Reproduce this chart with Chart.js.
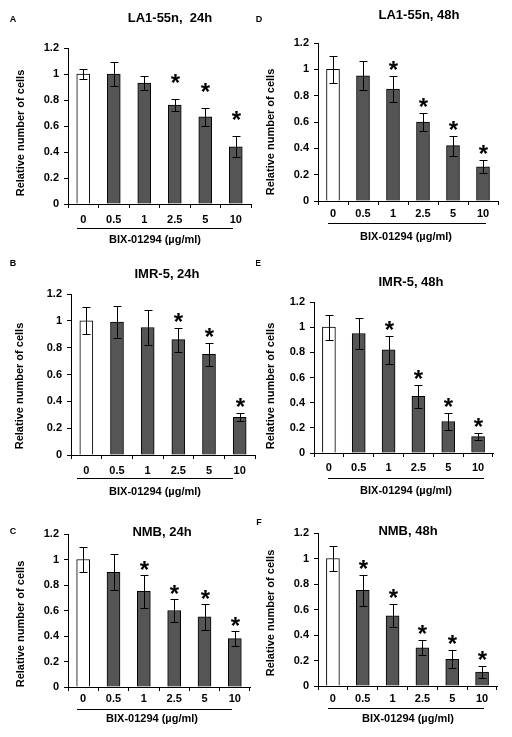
<!DOCTYPE html>
<html>
<head>
<meta charset="utf-8">
<script src="https://cdn.jsdelivr.net/npm/chart.js@4.4.1/dist/chart.umd.min.js"></script>
<style>
  body { margin: 0; background: #fff; }
  #wrap { position: relative; width: 512px; height: 737px; }
  #wrap canvas { position: absolute; }
</style>
</head>
<body>
<div id="wrap">
  <canvas id="chartA" width="256" height="250" style="left:0;top:0"></canvas>
  <canvas id="chartD" width="256" height="250" style="left:256px;top:0"></canvas>
  <canvas id="chartB" width="256" height="250" style="left:0;top:250px"></canvas>
  <canvas id="chartE" width="256" height="250" style="left:256px;top:250px"></canvas>
  <canvas id="chartC" width="256" height="237" style="left:0;top:500px"></canvas>
  <canvas id="chartF" width="256" height="237" style="left:256px;top:500px"></canvas>
</div>
<script>
// BIX-01294 doses (µg/ml)
var doses = ['0', '0.5', '1', '2.5', '5', '10'];

// LA1-55n
var la24 = [1.0, 1.0, 0.93, 0.76, 0.67, 0.44];
var la24Err = [0.04, 0.095, 0.055, 0.047, 0.07, 0.08];
var la24Sig = [false, false, false, true, true, true];
var la48 = [1.0, 0.95, 0.85, 0.6, 0.42, 0.26];
var la48Err = [0.1, 0.11, 0.1, 0.07, 0.076, 0.05];
var la48Sig = [false, false, true, true, true, true];

// IMR-5
var imr24 = [1.0, 0.99, 0.95, 0.86, 0.75, 0.28];
var imr24Err = [0.1, 0.12, 0.13, 0.09, 0.085, 0.03];
var imr24Sig = [false, false, false, true, true, true];
var imr48 = [1.0, 0.95, 0.82, 0.45, 0.25, 0.13];
var imr48Err = [0.1, 0.12, 0.11, 0.09, 0.065, 0.025];
var imr48Sig = [false, false, true, true, true, true];

// NMB
var nmb24 = [1.0, 0.9, 0.75, 0.6, 0.55, 0.38];
var nmb24Err = [0.1, 0.14, 0.13, 0.09, 0.1, 0.06];
var nmb24Sig = [false, false, true, true, true, true];
var nmb48 = [1.0, 0.75, 0.55, 0.3, 0.21, 0.11];
var nmb48Err = [0.1, 0.12, 0.09, 0.06, 0.07, 0.05];
var nmb48Sig = [false, true, true, true, true, true];

var FONT = "'Liberation Sans', Arial, sans-serif";

// panel layout (canvas coordinates)
var panels = [
  { id: 'chartA', letter: 'A', title: 'LA1-55n,  24h', values: la24, errs: la24Err, sig: la24Sig,
    h: 250, area: { l: 68, r: 251, t: 48, b: 204 }, tickPad: 5,
    letterPos: [13, 20], titlePos: [170, 18], yTitle: [21, 133],
    line: [77, 233, 228], xTitle: [155, 240], starGap: 22 },
  { id: 'chartD', letter: 'D', title: 'LA1-55n, 48h', values: la48, errs: la48Err, sig: la48Sig,
    h: 250, area: { l: 62, r: 242, t: 43, b: 201 }, tickPad: 2,
    letterPos: [3, 20], titlePos: [163, 15], yTitle: [15, 132],
    line: [72, 230, 223], xTitle: [150, 237], starGap: 12 },
  { id: 'chartB', letter: 'B', title: 'IMR-5, 24h', values: imr24, errs: imr24Err, sig: imr24Sig,
    h: 250, area: { l: 71, r: 255, t: 44, b: 205 }, tickPad: 5,
    letterPos: [13, 14], titlePos: [167, 24], yTitle: [20, 136],
    line: [77, 233, 228], xTitle: [155, 242], starGap: 12 },
  { id: 'chartE', letter: 'E', title: 'IMR-5, 48h', values: imr48, errs: imr48Err, sig: imr48Sig,
    h: 250, area: { l: 58, r: 237, t: 52, b: 203 }, tickPad: 4,
    letterPos: [2, 14], titlePos: [155, 32], yTitle: [15, 136],
    line: [72, 228, 228], xTitle: [150, 241], starGap: 12 },
  { id: 'chartC', letter: 'C', title: 'NMB, 24h', values: nmb24, errs: nmb24Err, sig: nmb24Sig,
    h: 237, area: { l: 68, r: 250, t: 34, b: 187 }, tickPad: 1,
    letterPos: [13, 32], titlePos: [162, 32], yTitle: [21, 124],
    line: [77, 232, 209], xTitle: [152, 219], starGap: 11 },
  { id: 'chartF', letter: 'F', title: 'NMB, 48h', values: nmb48, errs: nmb48Err, sig: nmb48Sig,
    h: 237, area: { l: 62, r: 241, t: 33, b: 186 }, tickPad: 2,
    letterPos: [3, 23], titlePos: [152, 31], yTitle: [15, 113],
    line: [72, 228, 208], xTitle: [152, 219], starGap: 12 }
];

// error bars, stars, underline and texts
var decor = {
  id: 'decor',
  afterDatasetsDraw: function (chart, args, opts) {
    var p = opts.panel;
    var ctx = chart.ctx, xs = chart.scales.x, ys = chart.scales.y;
    ctx.save();
    ctx.strokeStyle = '#000';
    ctx.fillStyle = '#000';
    ctx.lineWidth = 1;
    p.values.forEach(function (v, i) {
      var cx = Math.round(xs.getPixelForValue(i)) + 0.5;
      var hi = Math.round(ys.getPixelForValue(v + p.errs[i])) + 0.5;
      var lo = Math.round(ys.getPixelForValue(v - p.errs[i])) + 0.5;
      ctx.beginPath();
      ctx.moveTo(cx, hi); ctx.lineTo(cx, lo);
      ctx.moveTo(cx - 4, hi); ctx.lineTo(cx + 4, hi);
      ctx.moveTo(cx - 4, lo); ctx.lineTo(cx + 4, lo);
      ctx.stroke();
      if (p.sig[i]) {
        ctx.font = 'bold 24px ' + FONT;
        ctx.textAlign = 'center';
        ctx.textBaseline = 'alphabetic';
        ctx.fillText('*', cx, hi - p.starGap + 13);
      }
    });
    // line under the dose labels
    ctx.beginPath();
    ctx.moveTo(p.line[0], p.line[2] + 0.5);
    ctx.lineTo(p.line[1], p.line[2] + 0.5);
    ctx.stroke();

    ctx.textAlign = 'center';
    ctx.textBaseline = 'middle';
    ctx.font = 'bold 11px ' + FONT;
    ctx.fillText('BIX-01294 (\u00b5g/ml)', p.xTitle[0], p.xTitle[1]);
    ctx.save();
    ctx.translate(p.yTitle[0], p.yTitle[1]);
    ctx.rotate(-Math.PI / 2);
    ctx.fillText('Relative number of cells', 0, 0);
    ctx.restore();

    ctx.font = 'bold 13px ' + FONT;
    ctx.fillText(p.title, p.titlePos[0], p.titlePos[1]);
    ctx.font = 'bold 9px ' + FONT;
    ctx.fillText(p.letter, p.letterPos[0], p.letterPos[1]);
    ctx.restore();
  }
};

panels.forEach(function (p) {
  var ctx = document.getElementById(p.id).getContext('2d');
  var xAxisH = 30;
  new Chart(ctx, {
    type: 'bar',
    data: {
      labels: doses,
      datasets: [{
        data: p.values,
        backgroundColor: doses.map(function (d, i) { return i === 0 ? '#ffffff' : '#555555'; }),
        borderColor: '#000',
        borderWidth: 1,
        barThickness: 13
      }]
    },
    options: {
      responsive: false,
      animation: false,
      layout: {
        padding: { left: 0, top: p.area.t, right: 256 - p.area.r, bottom: p.h - p.area.b - xAxisH }
      },
      plugins: {
        legend: { display: false },
        tooltip: { enabled: false },
        decor: { panel: p }
      },
      scales: {
        x: {
          afterFit: function (s) { s.height = xAxisH; },
          grid: { drawOnChartArea: false, drawTicks: true, tickLength: 4, color: '#000' },
          border: { display: true, color: '#000' },
          ticks: { color: '#000', padding: p.tickPad, font: { family: FONT, size: 11, weight: 'bold' } }
        },
        y: {
          min: 0,
          max: 1.2,
          afterFit: function (s) { s.width = p.area.l; },
          grid: { drawOnChartArea: false, drawTicks: true, tickLength: 4, color: '#000' },
          border: { display: true, color: '#000' },
          ticks: {
            stepSize: 0.2, color: '#000', padding: 5,
            font: { family: FONT, size: 11, weight: 'bold' },
            callback: function (v) { return String(parseFloat(v.toFixed(1))); }
          }
        }
      }
    },
    plugins: [decor]
  });
});
</script>
</body>
</html>
